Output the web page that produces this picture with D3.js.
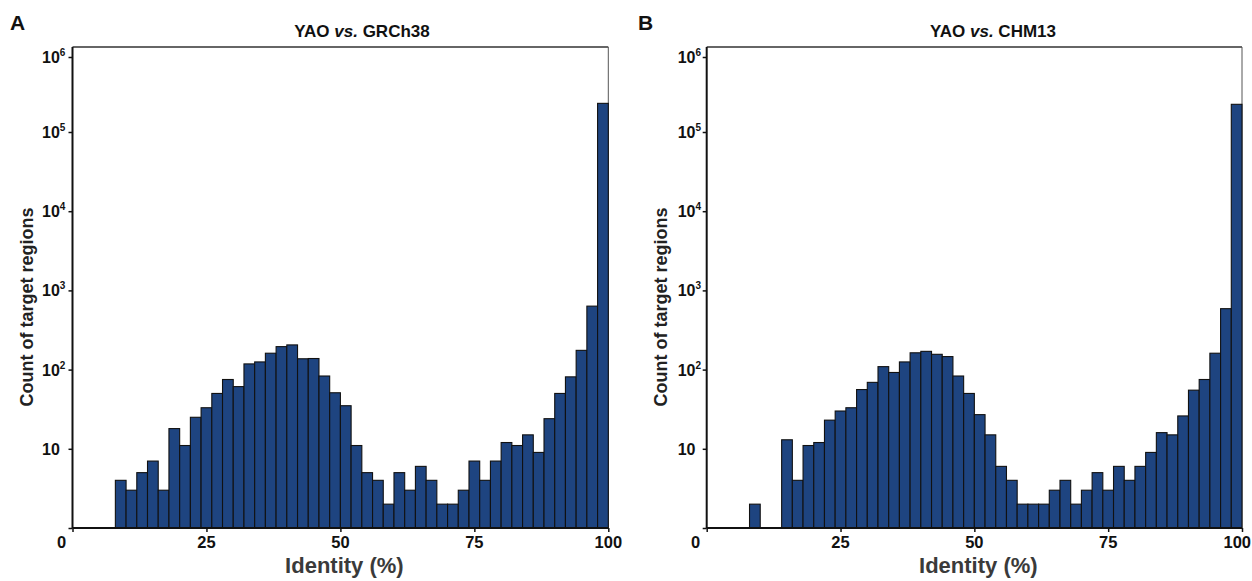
<!DOCTYPE html>
<html>
<head>
<meta charset="utf-8">
<script src="https://cdn.jsdelivr.net/npm/d3@7"></script>
<style>
  html, body { margin: 0; padding: 0; background: #ffffff; }
  svg { display: block; }
  text { font-family: "Liberation Sans", Arial, Helvetica, sans-serif; font-weight: bold; }
</style>
</head>
<body>
<svg id="chart" width="1252" height="581"></svg>
<script>
// ---------------- data ----------------
const binStarts = [8, 10, 12, 14, 16, 18, 20, 22, 24, 26, 28, 30, 32, 34, 36, 38, 40, 42, 44, 46,
                   48, 50, 52, 54, 56, 58, 60, 62, 64, 66, 68, 70, 72, 74, 76, 78, 80, 82, 84, 86,
                   88, 90, 92, 94, 96, 98];
const binWidth = 2;

const countsGRCh38 = [4, 3, 5, 7, 3, 18, 11, 25, 33, 50, 75, 61, 118, 125, 161, 195, 205, 137, 138, 83,
                      51, 35, 11, 5, 4, 2, 5, 3, 6, 4, 2, 2, 3, 7, 4, 7, 12, 11, 15, 9,
                      24, 50, 81, 175, 633, 241000];
const countsCHM13  = [2, 0, 0, 13, 4, 11, 12, 23, 30, 33, 56, 69, 109, 92, 125, 163, 170, 156, 146, 83,
                      50, 27, 15, 6, 4, 2, 2, 2, 3, 4, 2, 3, 5, 3, 6, 4, 6, 9, 16, 15,
                      26, 55, 75, 161, 588, 234000];

const xTickValues = [0, 25, 50, 75, 100];
const xTickLabels = ["0", "25", "50", "75", "100"];
const yTickValues = [1, 10, 100, 1000, 10000, 100000, 1000000];
const yTickBase   = ["", "10", "10", "10", "10", "10", "10"];
const yTickSup    = ["", "", "2", "3", "4", "5", "6"];

const panelLetters = ["A", "B"];
const panelRefs    = ["GRCh38", "CHM13"];
const xAxisTitle = "Identity (%)";
const yAxisTitle = "Count of target regions";

// ---------------- layout ----------------
const svg = d3.select("#chart");
const svgWidth = 1252;
const barFill = "#1e4480";
const plotTop = 47, plotBottom = 528;

const panels = [
  { left: 72.5, right: 608.3, values: countsGRCh38, letter: panelLetters[0], ref: panelRefs[0],
    letterX: 10, titleX: 362, yTitleX: 33, tickLabelX: 30.5 },
  { left: 706.7, right: 1242, values: countsCHM13, letter: panelLetters[1], ref: panelRefs[1],
    letterX: 638, titleX: 993, yTitleX: 667, tickLabelX: 29 }
];

panels.forEach(p => {
  const g = svg.append("g");
  const x = d3.scaleLinear().domain([0, 100]).range([p.left, p.right]);
  const y = d3.scaleLog().domain([1, 1e5, 1e6]).range([plotBottom, 132, 57]);

  // frame (top + right)
  g.append("line").attr("x1", p.left).attr("x2", p.right).attr("y1", plotTop).attr("y2", plotTop)
    .attr("stroke", "#333").attr("stroke-width", 1.4);
  g.append("line").attr("x1", p.right).attr("x2", p.right).attr("y1", plotTop).attr("y2", plotBottom)
    .attr("stroke", "#555").attr("stroke-width", 1);

  // bars
  const data = binStarts.map((s, i) => ({ start: s, value: p.values[i] })).filter(d => d.value > 0);
  g.selectAll("rect.bar").data(data).enter().append("rect")
    .attr("class", "bar")
    .attr("x", d => x(d.start))
    .attr("width", d => x(d.start + binWidth) - x(d.start))
    .attr("y", d => y(d.value))
    .attr("height", d => plotBottom - y(d.value))
    .attr("fill", barFill)
    .attr("stroke", "#111")
    .attr("stroke-width", 1.1);

  // y axis
  const yAxis = d3.axisLeft(y).tickValues(yTickValues).tickFormat("").tickSize(4).tickSizeOuter(0);
  const ya = g.append("g").attr("transform", `translate(${p.left},0)`).call(yAxis);
  ya.select(".domain").attr("stroke", "#111").attr("stroke-width", 2).attr("d", `M0,${plotTop}V${plotBottom}`);
  ya.selectAll(".tick line").attr("stroke", "#111").attr("stroke-width", 1.5);

  yTickValues.forEach((v, i) => {
    if (!yTickBase[i]) return;
    const t = g.append("text")
      .attr("x", p.left - p.tickLabelX)
      .attr("y", y(v) + 6)
      .attr("font-size", 16)
      .attr("fill", "#111");
    t.append("tspan").text(yTickBase[i]);
    if (yTickSup[i]) {
      t.append("tspan").attr("font-size", 10).attr("dy", -7).text(yTickSup[i]);
    }
  });

  // x axis
  const xAxis = d3.axisBottom(x).tickValues(xTickValues).tickFormat("").tickSize(4).tickSizeOuter(0);
  const xa = g.append("g").attr("transform", `translate(0,${plotBottom})`).call(xAxis);
  xa.select(".domain").attr("stroke", "#111").attr("stroke-width", 2).attr("d", `M${p.left},0H${p.right}`);
  xa.selectAll(".tick line").attr("stroke", "#111").attr("stroke-width", 1.5);

  xTickValues.forEach((v, i) => {
    const t = g.append("text")
      .attr("x", x(v) + (v === 0 ? -11 : 0))
      .attr("y", plotBottom + 19.5)
      .attr("text-anchor", "middle")
      .attr("font-size", 16.5)
      .attr("fill", "#111")
      .text(xTickLabels[i]);
    // keep the label inside the picture
    const bb = t.node().getBBox();
    const overflow = bb.x + bb.width - (svgWidth - 1);
    if (overflow > 0) t.attr("x", +t.attr("x") - overflow);
  });

  // axis titles
  g.append("text")
    .attr("x", (p.left + p.right) / 2 + 4)
    .attr("y", 573)
    .attr("text-anchor", "middle")
    .attr("font-size", 22)
    .attr("fill", "#3a3a3a")
    .text(xAxisTitle);

  g.append("text")
    .attr("transform", `translate(${p.yTitleX},307) rotate(-90)`)
    .attr("text-anchor", "middle")
    .attr("font-size", 18)
    .attr("fill", "#222")
    .text(yAxisTitle);

  // panel title
  const title = g.append("text")
    .attr("x", p.titleX)
    .attr("y", 37)
    .attr("text-anchor", "middle")
    .attr("font-size", 17)
    .attr("fill", "#111");
  title.append("tspan").text("YAO ");
  title.append("tspan").attr("font-style", "italic").text("vs.");
  title.append("tspan").text(" " + p.ref);

  // panel letter
  g.append("text")
    .attr("x", p.letterX)
    .attr("y", 30)
    .attr("font-size", 21)
    .attr("fill", "#111")
    .text(p.letter);
});
</script>
</body>
</html>
